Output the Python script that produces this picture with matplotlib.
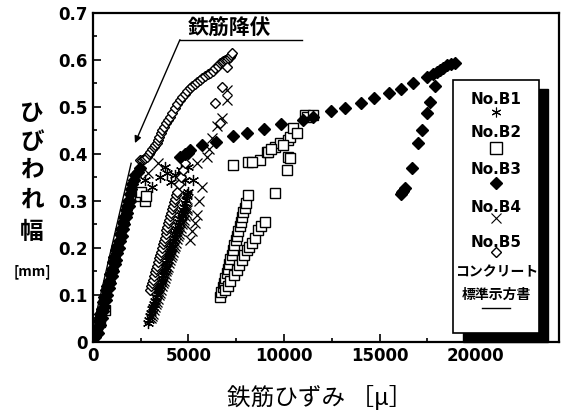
import matplotlib
matplotlib.use("Agg")
import matplotlib.pyplot as plt
from matplotlib.patches import Rectangle

plt.rcParams['font.family'] = ['Noto Sans CJK JP', 'DejaVu Sans']

# ---------------- data (strain [μ], crack width [mm]) ----------------
b1_x = [2900, 2950, 3000, 3050, 3100, 3150, 3200, 3250, 3300, 3350, 3400, 3450,
        3500, 3550, 3600, 3650, 3700, 3750, 3800, 3850, 3900, 3950, 4000, 4050,
        4100, 4150, 4200, 4250, 4300, 4350, 4400, 4450, 4500, 4550, 4600, 4650,
        4700, 4750, 4800, 4850, 4900, 4950, 5000,
        3770, 4970, 5240, 4300, 2700, 3100, 4600, 4100, 3500, 3900, 4800]
b1_y = [0.04, 0.047, 0.055, 0.062, 0.07, 0.075, 0.08, 0.088, 0.095, 0.102, 0.11, 0.115,
        0.12, 0.128, 0.135, 0.142, 0.15, 0.155, 0.16, 0.168, 0.175, 0.182, 0.19, 0.195,
        0.20, 0.208, 0.215, 0.222, 0.23, 0.235, 0.24, 0.248, 0.255, 0.262, 0.27, 0.275,
        0.28, 0.288, 0.295, 0.302, 0.31, 0.315, 0.32,
        0.373, 0.373, 0.345, 0.355, 0.345, 0.33, 0.365, 0.34, 0.35, 0.36, 0.345]

b2_x = [200, 370, 630, 2460, 2720, 2510, 2770,
        6650, 6720, 6790, 6860, 6930, 7000, 7060, 7130, 7200, 7270, 7340, 7400,
        7470, 7540, 7610, 7680, 7740, 7810, 7880, 7950, 8020, 8110,
        6910, 7050, 7200, 7370, 7540, 7670, 7800, 7930, 8060, 8180, 8300, 8480,
        8640, 8820, 9000, 9530,
        10160, 10210, 10310, 8740, 9110, 9530, 9790, 10210, 10310, 10470,
        10680, 11100, 11200, 11520, 7330, 8110, 8320, 9160, 9300, 9950]
b2_y = [0.025, 0.043, 0.068, 0.31, 0.30, 0.32, 0.31,
        0.096, 0.106, 0.116, 0.126, 0.136, 0.146, 0.156, 0.166, 0.176, 0.186, 0.196, 0.206,
        0.216, 0.226, 0.236, 0.246, 0.256, 0.266, 0.276, 0.286, 0.296, 0.313,
        0.11, 0.12, 0.13, 0.142, 0.153, 0.164, 0.175, 0.186, 0.196, 0.203, 0.21, 0.221,
        0.238, 0.246, 0.255, 0.317,
        0.366, 0.394, 0.392, 0.387, 0.404, 0.415, 0.423, 0.43, 0.436, 0.455,
        0.445, 0.483, 0.479, 0.483, 0.377, 0.383, 0.383, 0.404, 0.41, 0.42]

b3_x = [100, 200, 300, 380, 450, 530, 600, 680, 750, 820, 900, 980, 1050, 1120,
        1200, 1270, 1340, 1420, 1490, 1560, 1640, 1710, 1780, 1850, 1920, 1990,
        2060, 2130, 2200,
        250, 350, 450, 530, 600, 680, 760, 830, 900, 980, 1060, 1130, 1200, 1280,
        1350, 1430, 1500, 1580, 1650, 1730, 1800, 1880, 1950,
        2360, 2460, 4550, 4800, 4970, 5080, 5700, 6440, 7330, 8060, 8950, 9840,
        11000, 11520, 12460, 13190, 14030, 14710, 15500, 16130, 16750, 17490,
        17800, 18000, 18150, 18300, 18530, 18750, 18950,
        17900, 17640, 17490, 17230, 17000, 16700, 16330, 16250, 16180, 16100]
b3_y = [0.01, 0.03, 0.045, 0.06, 0.07, 0.085, 0.095, 0.11, 0.12, 0.13, 0.145, 0.155,
        0.17, 0.18, 0.195, 0.205, 0.215, 0.23, 0.24, 0.255, 0.265, 0.28, 0.29, 0.30,
        0.315, 0.325, 0.335, 0.345, 0.355,
        0.02, 0.035, 0.05, 0.065, 0.075, 0.09, 0.10, 0.115, 0.125, 0.14, 0.15, 0.165,
        0.175, 0.19, 0.20, 0.215, 0.225, 0.24, 0.25, 0.265, 0.275, 0.29, 0.30,
        0.362, 0.37, 0.394, 0.40, 0.402, 0.408, 0.419, 0.426, 0.438, 0.445, 0.453,
        0.464, 0.472, 0.479, 0.491, 0.498, 0.509, 0.519, 0.53, 0.538, 0.551, 0.564,
        0.57, 0.574, 0.578, 0.582, 0.589, 0.592, 0.594,
        0.545, 0.511, 0.487, 0.451, 0.423, 0.37, 0.328, 0.322, 0.319, 0.315]

b4_x = [3050, 3100, 3150, 3200, 3250, 3300, 3350, 3400, 3450, 3500, 3550, 3600,
        3650, 3700, 3750, 3800, 3850, 3900, 3950, 4000, 4050, 4100, 4150, 4200,
        4250, 4300, 4350, 4400, 4450, 4500, 4550, 4600, 4650, 4700, 4750, 4800,
        4850, 4900, 4950, 5080, 5200, 5340, 5450, 5550, 5700, 5970, 6230, 6500,
        6750, 7010, 7010, 3400, 2900, 5440, 6100]
b4_y = [0.05, 0.055, 0.06, 0.068, 0.075, 0.08, 0.085, 0.092, 0.10, 0.105, 0.11, 0.118,
        0.125, 0.13, 0.135, 0.142, 0.15, 0.155, 0.16, 0.168, 0.175, 0.18, 0.185, 0.192,
        0.20, 0.205, 0.21, 0.218, 0.225, 0.23, 0.235, 0.242, 0.25, 0.255, 0.26, 0.268,
        0.275, 0.28, 0.285, 0.217, 0.235, 0.253, 0.27, 0.30, 0.33, 0.394, 0.434, 0.46,
        0.477, 0.515, 0.536, 0.38, 0.36, 0.38, 0.41]

b5_x = [2460, 2560, 2650, 2740, 2830, 2920, 3000, 3090, 3180, 3260, 3350, 3420,
        3480, 3550, 3610, 3710, 3820, 3920, 4030, 4160, 4290, 4420, 4550, 4680,
        4810, 4940, 5080, 5210, 5340, 5470, 5600, 5730, 5860, 6000, 6130, 6260,
        6390, 6520, 6650, 6740, 6830, 6920, 7010, 7080, 7150, 7210, 7270,
        6750, 6390, 7010, 6650,
        3000, 3050, 3100, 3150, 3200, 3250, 3300, 3350, 3400, 3450, 3500, 3550,
        3600, 3650, 3700, 3750, 3800, 3850, 3900, 3950, 4000, 4050, 4100, 4150,
        4200, 4250, 4300, 4350, 4400, 4500, 4600, 4710, 4820]
b5_y = [0.387, 0.388, 0.39, 0.392, 0.394, 0.40, 0.405, 0.41, 0.415, 0.419, 0.423,
        0.43, 0.437, 0.444, 0.451, 0.458, 0.465, 0.472, 0.479, 0.488, 0.497, 0.506,
        0.515, 0.522, 0.528, 0.534, 0.54, 0.545, 0.549, 0.553, 0.557, 0.561, 0.565,
        0.569, 0.572, 0.577, 0.582, 0.588, 0.593, 0.595, 0.597, 0.599, 0.60, 0.604,
        0.607, 0.611, 0.614,
        0.543, 0.508, 0.585, 0.466,
        0.11, 0.118, 0.125, 0.132, 0.14, 0.148, 0.155, 0.162, 0.17, 0.178, 0.185, 0.192,
        0.20, 0.208, 0.215, 0.222, 0.23, 0.238, 0.245, 0.252, 0.26, 0.268, 0.275, 0.282,
        0.29, 0.298, 0.305, 0.312, 0.32, 0.335, 0.35, 0.365, 0.381]

std_x = [0, 2000]
std_y = [0.03, 0.38]

x_ticks = [0, 5000, 10000, 15000, 20000]
y_ticks = [0, 0.1, 0.2, 0.3, 0.4, 0.5, 0.6, 0.7]
y_ticklabels = ['0', '0.1', '0.2', '0.3', '0.4', '0.5', '0.6', '0.7']
legend_labels = ['No.B1', 'No.B2', 'No.B3', 'No.B4', 'No.B5']

# ---------------- figure ----------------
fig = plt.figure(figsize=(5.7, 4.16), dpi=100)
ax = fig.add_axes([0.163, 0.178, 0.818, 0.791])
ax.set_xlim(0, 24400)
ax.set_ylim(0, 0.7)

ax.plot(std_x, std_y, color='black', lw=1.0)
ax.plot(b1_x, b1_y, ls='none', marker=(6, 2, 0), ms=8, mec='black', mew=0.9)
ax.plot(b4_x, b4_y, ls='none', marker='x', ms=7, mec='black', mew=0.9)
ax.plot(b5_x, b5_y, ls='none', marker='D', ms=5.5, mfc='white', mec='black', mew=1.0)
ax.plot(b2_x, b2_y, ls='none', marker='s', ms=7.5, mfc='white', mec='black', mew=1.0)
ax.plot(b3_x, b3_y, ls='none', marker='D', ms=6, mfc='black', mec='black')

ax.set_xticks(x_ticks)
ax.set_xticklabels([str(v) for v in x_ticks])
ax.set_xticks([2500, 7500, 12500, 17500, 22500], minor=True)
ax.set_yticks(y_ticks)
ax.set_yticklabels(y_ticklabels)
ax.set_yticks([0.05, 0.15, 0.25, 0.35, 0.45, 0.55, 0.65], minor=True)
ax.tick_params(which='both', direction='in', width=1.2, labelsize=12)
ax.tick_params(which='major', length=6)
ax.tick_params(which='minor', length=3)
for lab in ax.get_xticklabels() + ax.get_yticklabels():
    lab.set_fontweight('bold')
    lab.set_family(['Liberation Sans Narrow', 'DejaVu Sans'])
for s in ax.spines.values():
    s.set_linewidth(1.6)

# annotation 鉄筋降伏
ax.plot([10940, 4555], [0.643, 0.643], color='black', lw=1.0)
ax.annotate('', xy=(2200, 0.423), xytext=(4555, 0.643),
            arrowprops=dict(arrowstyle='-|>', color='black', lw=1.0,
                            mutation_scale=10, shrinkA=0, shrinkB=0))
ax.text(7170, 0.668, '鉄筋降伏', ha='center', va='center', fontsize=15,
        fontweight='bold')

# legend box (drawn by hand)
L, R, B, T = 0.773, 0.957, 0.027, 0.796
ax.add_patch(Rectangle((L + 0.02, B - 0.027), R - L, T - B, transform=ax.transAxes,
                       facecolor='black', edgecolor='black', zorder=5, clip_on=False))
ax.add_patch(Rectangle((L, B), R - L, T - B, transform=ax.transAxes,
                       facecolor='white', edgecolor='black', lw=1.2, zorder=6))
cx = (L + R) / 2
lab_y = [0.737, 0.637, 0.524, 0.410, 0.301]
mk_y = [0.699, 0.590, 0.483, 0.377, 0.274]
markers = [dict(marker=(6, 2, 0), ms=7, mec='black', mew=0.8),
           dict(marker='s', ms=8, mfc='white', mec='black', mew=1.0),
           dict(marker='D', ms=6, mfc='black', mec='black'),
           dict(marker='x', ms=7, mec='black', mew=0.8),
           dict(marker='D', ms=5.5, mfc='white', mec='black', mew=1.0)]
for lab, ly, my, mk in zip(legend_labels, lab_y, mk_y, markers):
    ax.text(cx, ly, lab, transform=ax.transAxes, ha='center', va='center',
            fontsize=11, fontweight='bold', zorder=7,
            family=['Liberation Sans Narrow', 'DejaVu Sans'])
    ax.plot([cx], [my], transform=ax.transAxes, ls='none', zorder=7, clip_on=False, **mk)
ax.text(cx, 0.213, 'コンクリート', transform=ax.transAxes, ha='center', va='center',
        fontsize=10, fontweight='bold', zorder=7)
ax.text(cx, 0.143, '標準示方書', transform=ax.transAxes, ha='center', va='center',
        fontsize=10, fontweight='bold', zorder=7)
ax.plot([cx - 0.03, cx + 0.03], [0.103, 0.103], transform=ax.transAxes,
        color='black', lw=1.0, zorder=7)

# axis labels
fig.text(320 / 570, 1 - 397 / 416, '鉄筋ひずみ ［μ］', ha='center', va='center',
         fontsize=17)
ylab_chars = ['ひ', 'び', 'わ', 'れ', '幅']
ylab_ypx = [113, 142, 170, 200, 232]
for ch, ypx in zip(ylab_chars, ylab_ypx):
    fig.text(32 / 570, 1 - ypx / 416, ch, ha='center', va='center', fontsize=17,
             fontweight='bold')
fig.text(32 / 570, 1 - 272 / 416, '[mm]', ha='center', va='center', fontsize=10,
         fontweight='bold')

fig.savefig('out.png', dpi=100)
